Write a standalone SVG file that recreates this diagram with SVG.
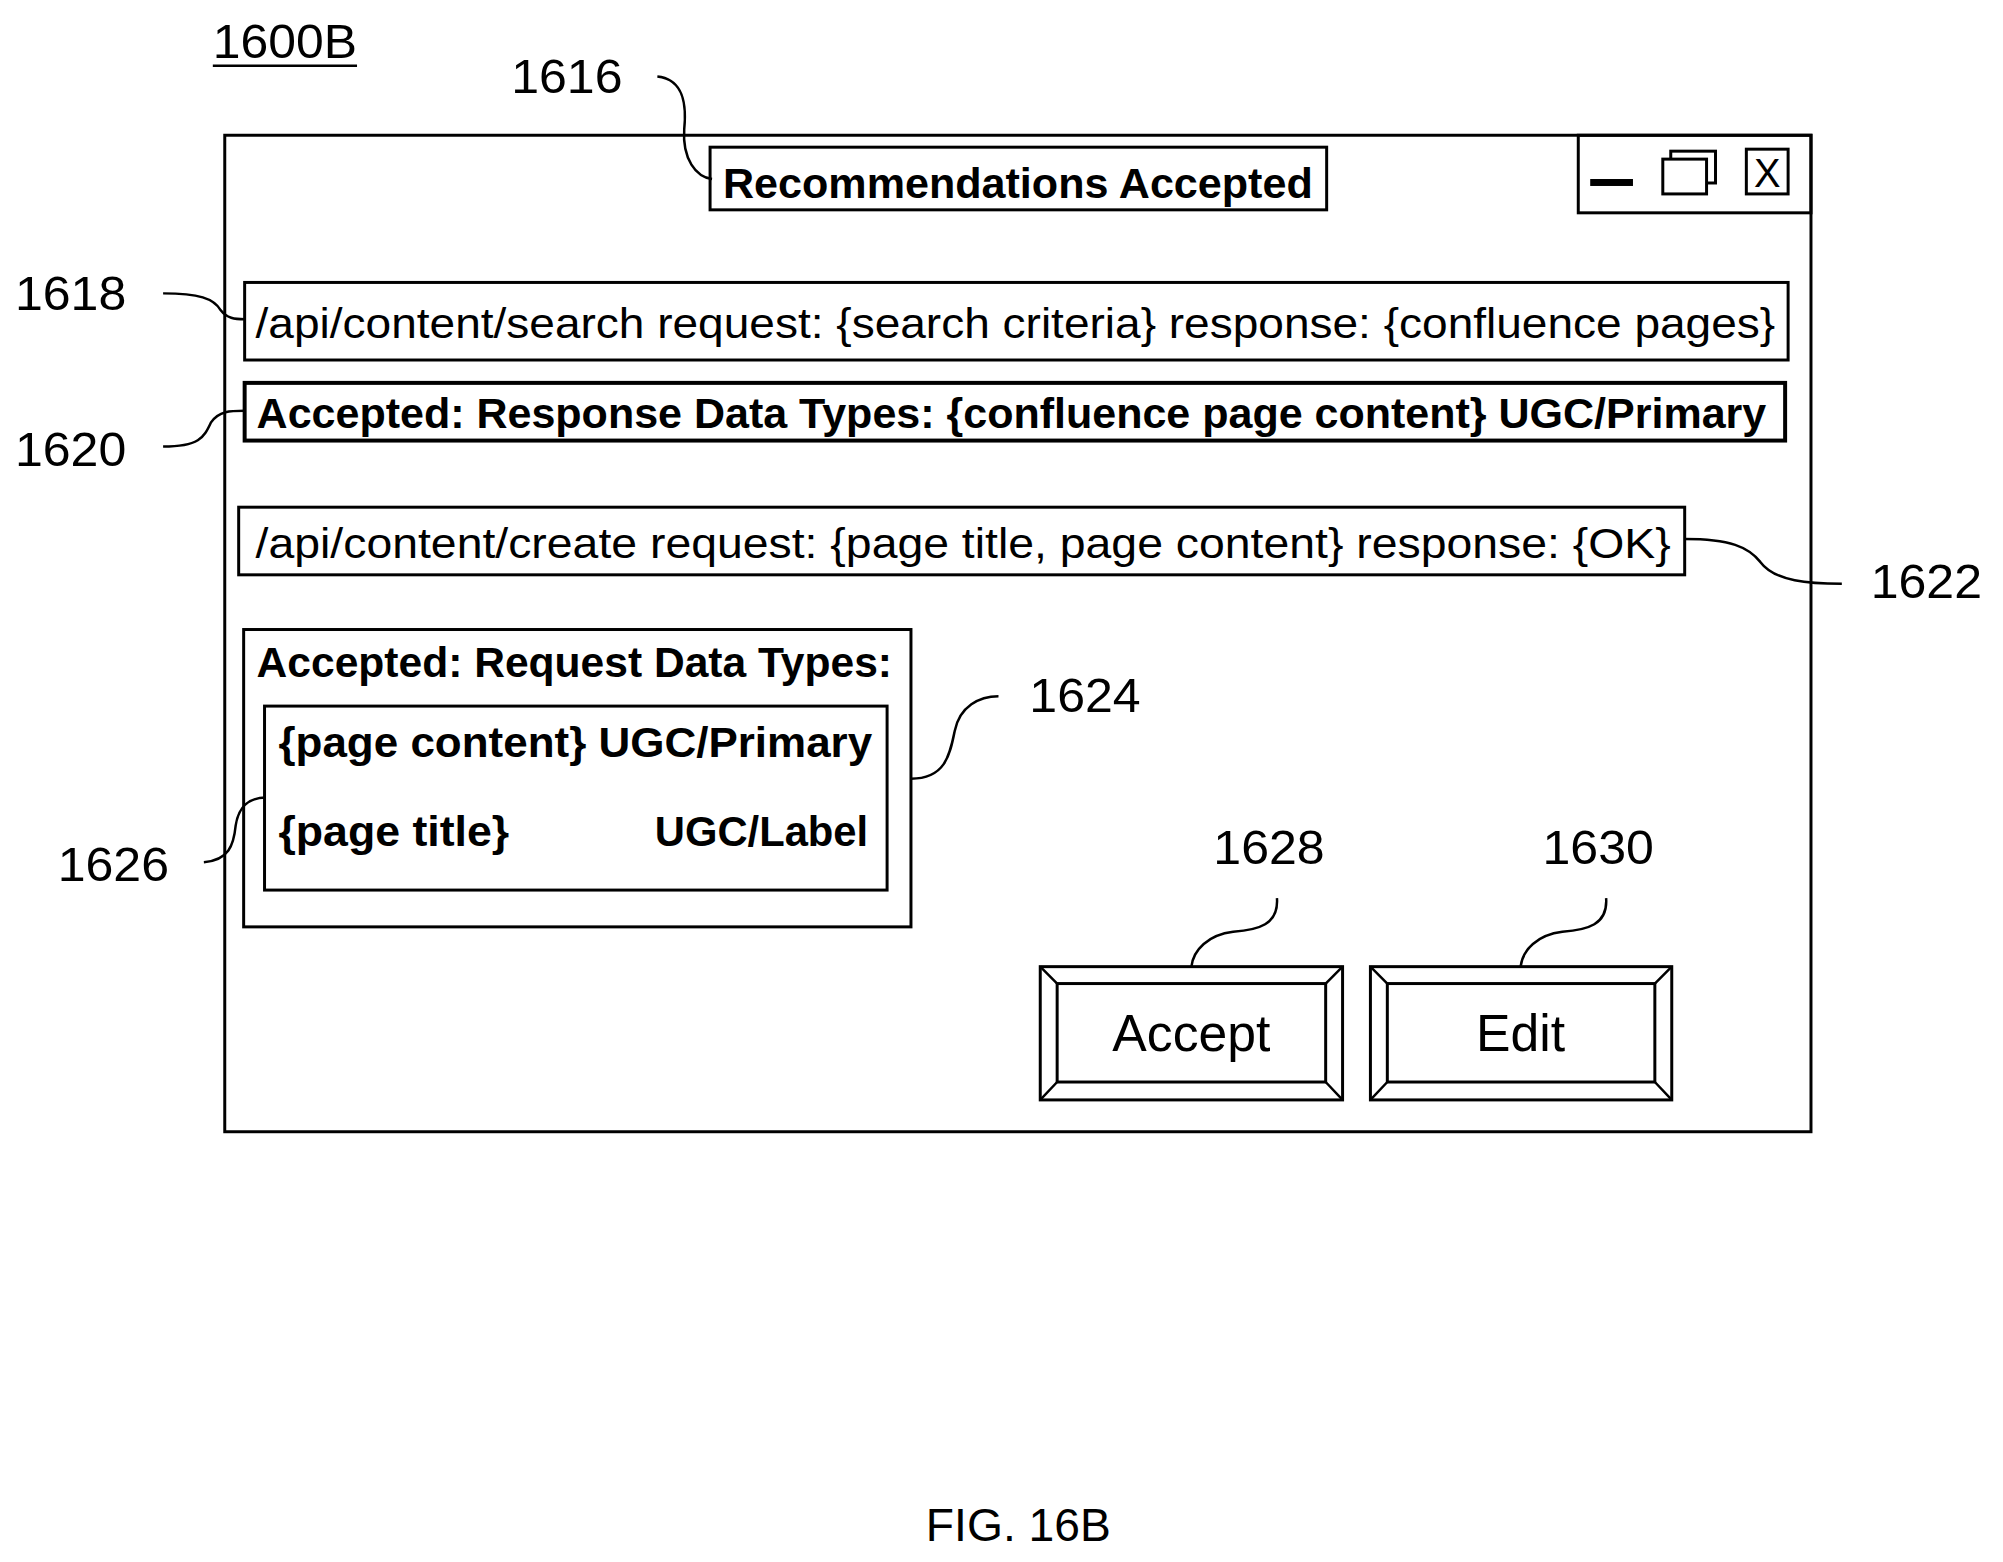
<svg xmlns="http://www.w3.org/2000/svg" width="2003" height="1562" viewBox="0 0 2003 1562">
<style>
.b{fill:none;stroke:#000;stroke-width:3}
.bb{fill:none;stroke:#000;stroke-width:4}
.l{fill:none;stroke:#000;stroke-width:2.5}
text{font-family:"Liberation Sans",Arial,sans-serif;fill:#000}
.n{font-size:48px}
.t{font-size:42px}
.tb{font-size:42px;font-weight:bold}
</style>
<rect width="2003" height="1562" fill="#fff"/>
<g transform="scale(0.9945)">
<g id="fig-label">
<text class="n" x="214" y="58" textLength="145" lengthAdjust="spacingAndGlyphs">1600B</text>
<line x1="214" y1="66" x2="359" y2="66" stroke="#000" stroke-width="2.5"/>
</g>
<g id="window">
<rect class="b" x="226" y="136" width="1595" height="1002"/>
<rect class="b" x="1587" y="136" width="234" height="78"/>
<rect x="1599" y="180" width="43" height="7" fill="#000"/>
<rect class="b" x="1680" y="152" width="45" height="32" fill="#fff"/>
<rect class="b" x="1672" y="160" width="44" height="35" style="fill:#fff"/>
<rect class="b" x="1756" y="150" width="42" height="45"/>
<text x="1777" y="188" font-size="40" text-anchor="middle">X</text>
</g>
<g id="n1616">
<rect class="b" x="714" y="148" width="620" height="63"/>
<text class="tb" x="727" y="199" textLength="593" lengthAdjust="spacingAndGlyphs">Recommendations Accepted</text>
</g>
<g id="n1618">
<rect class="b" x="246" y="284" width="1552" height="78"/>
<text class="t" x="257" y="340" textLength="1528" lengthAdjust="spacingAndGlyphs">/api/content/search request: {search criteria} response: {confluence pages}</text>
</g>
<g id="n1620">
<rect class="bb" x="246" y="385" width="1549" height="58"/>
<text class="tb" x="258" y="430" textLength="1518" lengthAdjust="spacingAndGlyphs">Accepted: Response Data Types: {confluence page content} UGC/Primary</text>
</g>
<g id="n1622">
<rect class="b" x="240" y="510" width="1454" height="68"/>
<text class="t" x="257" y="561" textLength="1423" lengthAdjust="spacingAndGlyphs">/api/content/create request: {page title, page content} response: {OK}</text>
</g>
<g id="n1624">
<rect class="b" x="245" y="633" width="671" height="299"/>
<text class="tb" x="258" y="681" textLength="639" lengthAdjust="spacingAndGlyphs">Accepted: Request Data Types:</text>
</g>
<g id="n1626">
<rect class="b" x="266" y="710" width="626" height="185"/>
<text class="tb" x="280" y="761" textLength="597" lengthAdjust="spacingAndGlyphs">{page content} UGC/Primary</text>
<text class="tb" x="280" y="851" textLength="232" lengthAdjust="spacingAndGlyphs">{page title}</text>
<text class="tb" x="873" y="851" text-anchor="end">UGC/Label</text>
</g>
<g id="n1628">
<rect class="b" x="1046" y="972" width="304" height="134"/>
<rect class="b" x="1063" y="989" width="270" height="99"/>
<path class="l" d="M1046 972L1063 989M1350 972L1333 989M1046 1106L1063 1088M1350 1106L1333 1088"/>
<text x="1198" y="1057" font-size="52" text-anchor="middle" textLength="159" lengthAdjust="spacingAndGlyphs">Accept</text>
</g>
<g id="n1630">
<rect class="b" x="1378" y="972" width="303" height="134"/>
<rect class="b" x="1395" y="989" width="269" height="99"/>
<path class="l" d="M1378 972L1395 989M1681 972L1664 989M1378 1106L1395 1088M1681 1106L1664 1088"/>
<text x="1529" y="1057" font-size="52" text-anchor="middle">Edit</text>
</g>
<g id="labels">
<text class="n" x="514" y="94" textLength="112" lengthAdjust="spacingAndGlyphs">1616</text>
<text class="n" x="15" y="312" textLength="112" lengthAdjust="spacingAndGlyphs">1618</text>
<text class="n" x="15" y="469" textLength="112" lengthAdjust="spacingAndGlyphs">1620</text>
<text class="n" x="1881" y="601" textLength="112" lengthAdjust="spacingAndGlyphs">1622</text>
<text class="n" x="1035" y="716" textLength="112" lengthAdjust="spacingAndGlyphs">1624</text>
<text class="n" x="58" y="886" textLength="112" lengthAdjust="spacingAndGlyphs">1626</text>
<text class="n" x="1220" y="869" textLength="112" lengthAdjust="spacingAndGlyphs">1628</text>
<text class="n" x="1551" y="869" textLength="112" lengthAdjust="spacingAndGlyphs">1630</text>
<text x="1024" y="1550" font-size="46" text-anchor="middle" textLength="186" lengthAdjust="spacingAndGlyphs">FIG. 16B</text>
</g>
<g id="connectors">
<path class="l" d="M661 77C690 80 690 110 688 130C686 160 700 178 716 180"/>
<path class="l" d="M164 295C200 295 215 300 222 312C228 320 236 321 246 321"/>
<path class="l" d="M164 449C200 449 205 440 212 425C220 413 232 413 246 413"/>
<path class="l" d="M1694 542C1740 542 1758 550 1770 565C1785 585 1820 587 1852 587"/>
<path class="l" d="M916 783C950 783 955 760 960 735C965 710 985 700 1004 700"/>
<path class="l" d="M205 867C230 865 235 850 237 830C240 810 252 802 267 802"/>
<path class="l" d="M1284 903C1286 930 1265 935 1240 937C1215 940 1200 955 1198 972"/>
<path class="l" d="M1615 903C1617 930 1596 935 1571 937C1546 940 1531 955 1529 972"/>
</g>
</g>
</svg>
